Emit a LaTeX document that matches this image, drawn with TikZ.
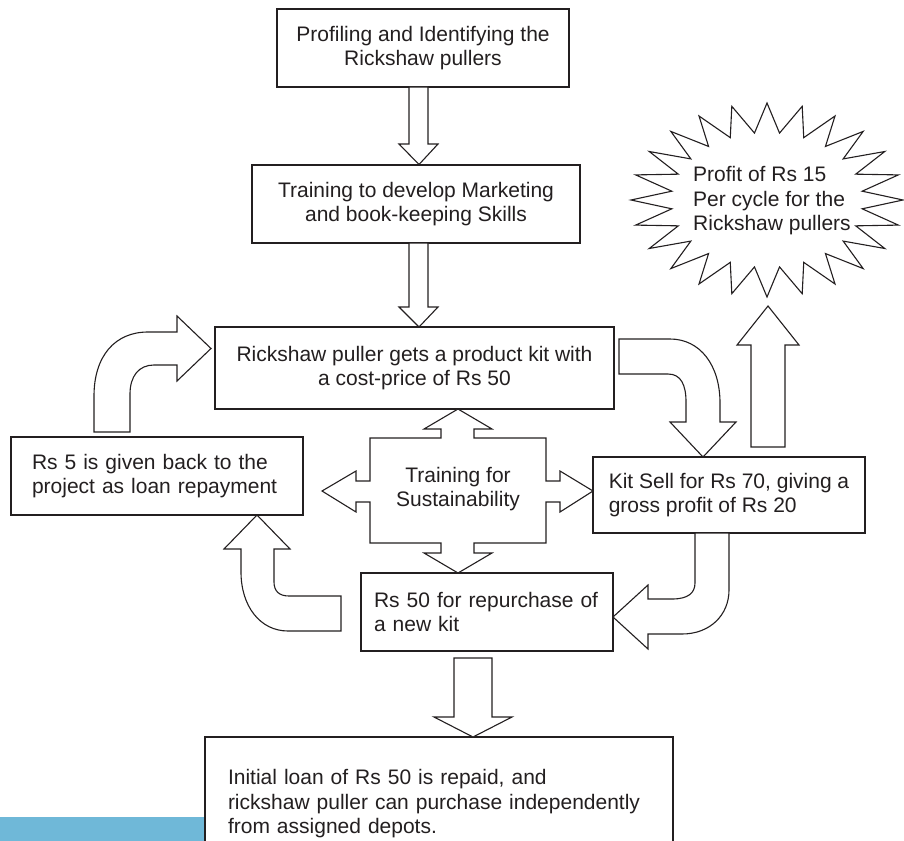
\documentclass[tikz,border=0pt]{standalone}
\usepackage{fontspec}
\setmainfont{Liberation Sans}
\definecolor{barblue}{HTML}{6FB8D8}
\definecolor{inkc}{HTML}{231F20}
\begin{document}
\begin{tikzpicture}[x=1pt,y=-1pt,
  ln/.style={draw=inkc, line width=1.1pt, line join=miter},
  blk/.style={ln, fill=white},
  txt/.style={font=\fontsize{21}{24.5}\selectfont, text=inkc, inner sep=0pt},
  cbox/.style={blk, txt, align=center},
  lbox/.style={blk, txt, align=left}]
\useasboundingbox (0,0) rectangle (904,840);
\clip (0,0) rectangle (904,840);

% blue bar
\fill[barblue] (0,817) rectangle (205,841);

% boxes
\node[cbox, minimum width=292pt, minimum height=78pt] (b1) at (423,48)
  {Profiling and Identifying the\\Rickshaw pullers};
\node[cbox, minimum width=328pt, minimum height=78pt] (b2) at (416,204)
  {Training to develop Marketing\\and book-keeping Skills};
\node[cbox, minimum width=399pt, minimum height=82pt] (b3) at (414.5,368)
  {Rickshaw puller gets a product kit with\\a cost-price of Rs 50};
\node[lbox, text width=250pt, inner xsep=21pt, minimum height=78pt] (b4) at (157,476)
  {Rs 5 is given back to the\\project as loan repayment};
\node[lbox, minimum width=272pt, minimum height=76pt] (b5) at (729,495)
  {Kit Sell for Rs 70, giving a\\gross profit of Rs 20};
\node[lbox, text width=226pt, inner xsep=13pt, minimum height=78pt] (b6) at (487,612)
  {Rs 50 for repurchase of\\a new kit};
\node[lbox, text width=422pt, inner xsep=23pt, minimum height=134pt] (b7) at (439,804)
  {Initial loan of Rs 50 is repaid, and\\rickshaw puller can purchase independently\\from assigned depots.};

% straight down arrows
\draw[blk] (409,87) -- (409,144) -- (399,144) -- (419,164.5) -- (438,144) -- (428,144) -- (428,87) -- cycle;
\draw[blk] (409,243) -- (409,307) -- (399,307) -- (419,327) -- (438,307) -- (428,307) -- (428,243) -- cycle;
\draw[blk] (454,658) -- (454,717) -- (434,717) -- (473,737) -- (512,717) -- (492,717) -- (492,658) -- cycle;

% curved arrow box3 -> kit
\draw[blk] (619,339) -- (670,339) .. controls (700,339) and (720,365) .. (720,403) -- (720,422)
  -- (736,422) -- (703,457) -- (670,422) -- (686,422) -- (686,402)
  .. controls (686,385) and (681,374) .. (668,374) -- (619,374) -- cycle;

% up arrow kit -> star
\draw[blk] (751,447) -- (751,345) -- (737,345) -- (768,306) -- (799,345) -- (785,345) -- (785,447) -- cycle;

% curved arrow kit -> Rs50
\draw[blk] (695,533) -- (695,583) .. controls (695,593) and (688,599) .. (672,599) -- (648,599)
  -- (648,585) -- (613,617) -- (648,649) -- (648,634) -- (682,634)
  .. controls (710,634) and (729,615) .. (729,590) -- (729,533) -- cycle;

% curved arrow Rs50 -> Rs5
\draw[blk] (257,515) -- (290,549) -- (274,549) -- (274,582) .. controls (274,591) and (279,596) .. (289,596)
  -- (341,596) -- (341,631) -- (288,631) .. controls (260,631) and (241,606) .. (241,572)
  -- (241,549) -- (224,549) -- cycle;

% curved arrow Rs5 -> box3
\draw[blk] (94,432) -- (94,396) .. controls (94,356) and (115,332) .. (148,332) -- (177,332)
  -- (177,316) -- (211,348.5) -- (177,381) -- (177,365) -- (154,365)
  .. controls (139,365) and (130,376) .. (130,394) -- (130,432) -- cycle;

% four-way arrow
\draw[blk] (458,409) -- (492,429) -- (474,429) -- (474,438) -- (546,438) -- (546,481) -- (560,481)
  -- (560,471) -- (593,491) -- (560,512) -- (560,502) -- (546,502) -- (546,543) -- (474,543)
  -- (474,553) -- (492,553) -- (458,573) -- (424,553) -- (441,553) -- (441,543) -- (370,543)
  -- (370,502) -- (356,502) -- (356,512) -- (322,491) -- (356,471) -- (356,481) -- (370,481)
  -- (370,438) -- (441,438) -- (441,429) -- (424,429) -- cycle;
\node[txt, align=center] (tfs) at (458,489) {Training for\\Sustainability};

% star
\draw[blk] (903,200) \foreach \i in {0,...,23} {
   -- ({767+96*cos(15*\i+7.5)},{200-67.5*sin(15*\i+7.5)})
   -- ({767+136*cos(15*\i+15)},{200-97*sin(15*\i+15)}) } -- cycle;
\node[txt, align=left] (star) at (772,201) {Profit of Rs 15\\Per cycle for the\\Rickshaw pullers};
\end{tikzpicture}
\end{document}
